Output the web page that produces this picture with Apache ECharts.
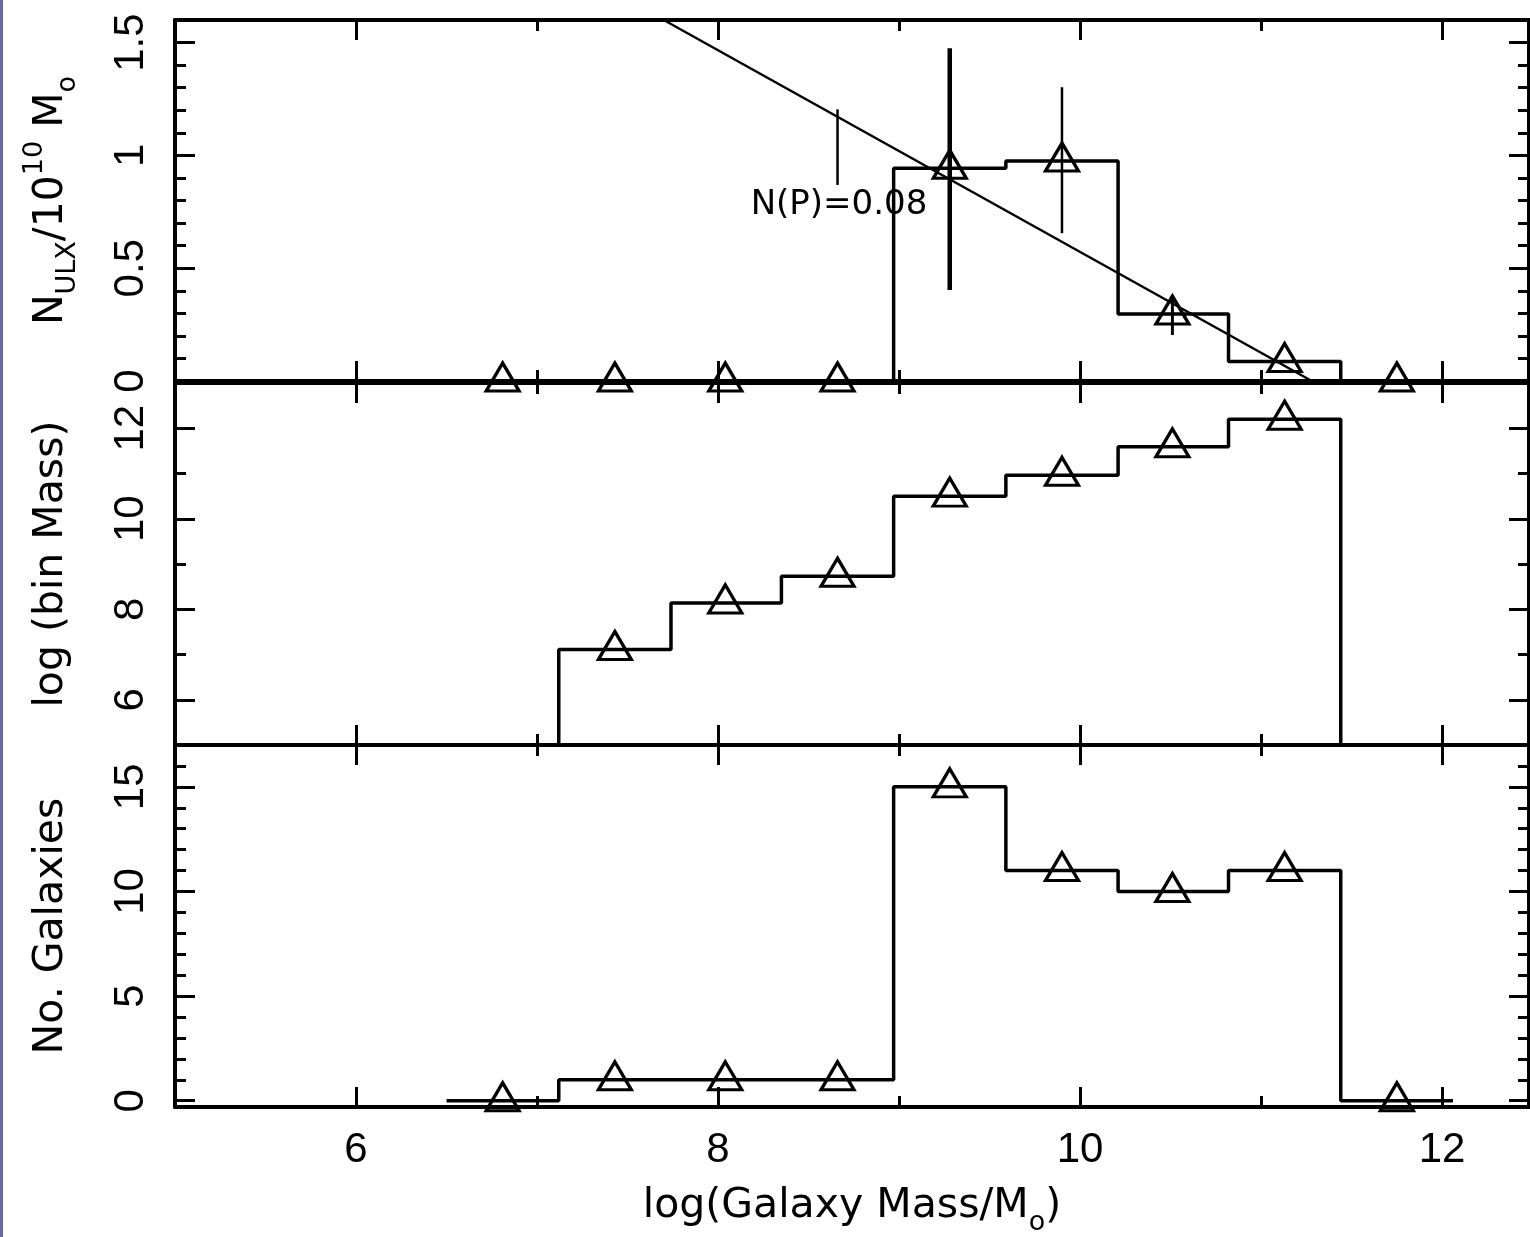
<!DOCTYPE html>
<html>
<head>
<meta charset="utf-8">
<script src="https://cdn.jsdelivr.net/npm/echarts@6/dist/echarts.min.js"></script>
<style>
  html, body { margin: 0; padding: 0; background: #ffffff; }
  #chart { width: 1530px; height: 1237px; }
</style>
</head>
<body>
<div id="chart"></div>
<script>
// Histogram bins in log(galaxy mass)
const binEdges   = [6.50, 7.12, 7.74, 8.35, 8.97, 9.59, 10.21, 10.82, 11.44, 12.06];
const binCentres = [6.81, 7.43, 8.04, 8.66, 9.28, 9.90, 10.51, 11.13, 11.75];

// Panel 1: ULX count per 10^10 solar masses
const ulxPerMass = [0, 0, 0, 0, 0.943, 0.975, 0.297, 0.086, 0];
// vertical segments (error bars and the N(P) marker)
const barX    = [8.66, 9.28, 9.90, 10.51];
const barLow  = [0.869, 0.403, 0.655, 0.204];
const barHigh = [1.204, 1.475, 1.302, 0.381];
// fitted power-law line (end points)
const fitX = [7.70, 11.28];
const fitY = [1.6, 0];
const fitLabel = 'N(P)=0.08';
const fitLabelAt = [8.18, 0.78];

// Panel 2: log of total mass per bin (empty bins have none)
const logBinMass = [null, 7.11, 8.14, 8.73, 10.50, 10.96, 11.59, 12.20, null];

// Panel 3: number of galaxies per bin
const galaxyCounts = [0, 1, 1, 1, 15, 11, 10, 11, 0];

// Axis ranges and ticks
const xRange = [5, 12.48];
const xMajor = [6, 8, 10, 12];
const xMinor = [7, 9, 11];
const yRanges = [[0, 1.6], [5, 13], [-0.3, 17]];
const yMajor = [[0, 0.5, 1, 1.5], [6, 8, 10, 12], [0, 5, 10, 15]];
const yMinor = [
  [0.1, 0.2, 0.3, 0.4, 0.6, 0.7, 0.8, 0.9, 1.1, 1.2, 1.3, 1.4],
  [7, 9, 11],
  [1, 2, 3, 4, 6, 7, 8, 9, 11, 12, 13, 14, 16]
];
const yNames = [
  '{t|N}{sub|ULX}{t|/10}{sup|10}{t| M}{sub|o}',
  'log (bin Mass)',
  'No. Galaxies'
];
const xName = '{t|log(Galaxy Mass/M}{sub|o}{t|)}';

// ---- styling ----
const INK = '#000000';
const AXIS_W = 4, TICK_W = 3, MAJOR_LEN = 20, MINOR_LEN = 11;
const labelFont = { fontFamily: 'Liberation Sans', fontSize: 42, color: INK };
const nameStyle = {
  fontFamily: 'DejaVu Sans', fontSize: 41, color: INK, lineHeight: 60,
  rich: {
    t:   { fontFamily: 'DejaVu Sans', fontSize: 41, lineHeight: 60, color: INK },
    sub: { fontFamily: 'DejaVu Sans', fontSize: 27, lineHeight: 27, verticalAlign: 'bottom', color: INK },
    sup: { fontFamily: 'DejaVu Sans', fontSize: 27, lineHeight: 27, verticalAlign: 'top', color: INK }
  }
};

const grids = [
  { left: 175, top: 20,  width: 1354, height: 361 },
  { left: 175, top: 383, width: 1354, height: 362 },
  { left: 175, top: 745, width: 1354, height: 362 }
].map(g => Object.assign({ containLabel: false, outerBoundsMode: 'none' }, g));

function axisBase(g, range, position, values, len, showLine) {
  return {
    gridIndex: g, type: 'value', min: range[0], max: range[1], position: position,
    axisLine: { show: showLine, onZero: false, lineStyle: { color: INK, width: AXIS_W } },
    axisTick: { show: true, inside: true, length: len, customValues: values,
                lineStyle: { color: INK, width: TICK_W } },
    axisLabel: { show: false },
    splitLine: { show: false },
    minorTick: { show: false }
  };
}

const xAxes = [], yAxes = [];
grids.forEach((_, g) => {
  const bottomMajor = axisBase(g, xRange, 'bottom', xMajor, MAJOR_LEN, true);
  if (g === 2) {
    bottomMajor.axisLabel = Object.assign({ show: true, customValues: xMajor, margin: 22 }, labelFont);
    bottomMajor.name = xName;
    bottomMajor.nameLocation = 'middle';
    bottomMajor.nameGap = 69;
    bottomMajor.nameTextStyle = nameStyle;
  }
  xAxes.push(bottomMajor,
             axisBase(g, xRange, 'bottom', xMinor, MINOR_LEN, false),
             axisBase(g, xRange, 'top', xMajor, MAJOR_LEN, true),
             axisBase(g, xRange, 'top', xMinor, MINOR_LEN, false));

  const leftMajor = axisBase(g, yRanges[g], 'left', yMajor[g], MAJOR_LEN, true);
  leftMajor.axisLabel = Object.assign({ show: true, customValues: yMajor[g], rotate: 90, margin: 23 }, labelFont);
  leftMajor.name = yNames[g];
  leftMajor.nameLocation = 'middle';
  leftMajor.nameGap = 94;
  leftMajor.nameTextStyle = nameStyle;
  yAxes.push(leftMajor,
             axisBase(g, yRanges[g], 'left', yMinor[g], MINOR_LEN, false),
             axisBase(g, yRanges[g], 'right', yMajor[g], MAJOR_LEN, true),
             axisBase(g, yRanges[g], 'right', yMinor[g], MINOR_LEN, false));
});

// Outline of a histogram; bins without a value drop to the floor of the panel
function stepPoints(vals, floor) {
  const pts = [];
  for (let i = 0; i < vals.length; i++) {
    const v = vals[i];
    if (v == null) continue;
    if (i > 0 && vals[i - 1] == null) pts.push([binEdges[i], floor]);
    pts.push([binEdges[i], v], [binEdges[i + 1], v]);
    if (i < vals.length - 1 && vals[i + 1] == null) pts.push([binEdges[i + 1], floor]);
  }
  return pts;
}

function points(vals) {
  const out = [];
  vals.forEach((v, i) => { if (v != null) out.push([binCentres[i], v]); });
  return out;
}

function histSeries(g, vals) {
  return {
    type: 'line', xAxisIndex: g * 4, yAxisIndex: g * 4,
    data: stepPoints(vals, yRanges[g][0]),
    showSymbol: false, symbol: 'none', silent: true, z: 3,
    lineStyle: { color: INK, width: 3.5 }
  };
}

function markerSeries(g, vals) {
  return {
    type: 'scatter', xAxisIndex: g * 4, yAxisIndex: g * 4,
    data: points(vals),
    symbol: 'triangle', symbolSize: [33, 28], symbolOffset: [0, -4],
    silent: true, z: 4,
    itemStyle: { color: 'rgba(0,0,0,0)', borderColor: INK, borderWidth: 3.2, opacity: 1 }
  };
}

const barWidths = [2.5, 4.5, 2.5, 3];

const option = {
  backgroundColor: '#ffffff',
  animation: false,
  grid: grids,
  xAxis: xAxes,
  yAxis: yAxes,
  graphic: [{
    type: 'rect', left: 0, top: 0, z: 10,
    shape: { width: 3, height: 1237 },
    style: { fill: '#6a6aa8' }
  }],
  series: [
    histSeries(0, ulxPerMass),
    {
      type: 'line', xAxisIndex: 0, yAxisIndex: 0,
      data: fitX.map((x, i) => [x, fitY[i]]),
      showSymbol: false, symbol: 'none', silent: true, z: 3,
      lineStyle: { color: INK, width: 2.5 }
    },
    {
      type: 'custom', xAxisIndex: 0, yAxisIndex: 0, silent: true, z: 3,
      data: barX.map((x, i) => [x, barLow[i], barHigh[i]]),
      renderItem: function (params, api) {
        const x = api.value(0);
        const p1 = api.coord([x, api.value(1)]);
        const p2 = api.coord([x, api.value(2)]);
        return {
          type: 'line',
          shape: { x1: p1[0], y1: p1[1], x2: p2[0], y2: p2[1] },
          style: { stroke: INK, lineWidth: barWidths[params.dataIndex] }
        };
      }
    },
    {
      type: 'custom', xAxisIndex: 0, yAxisIndex: 0, silent: true, z: 1,
      data: [fitLabelAt],
      renderItem: function (params, api) {
        const p = api.coord([api.value(0), api.value(1)]);
        return {
          type: 'text', x: p[0], y: p[1],
          style: {
            text: fitLabel, fill: INK,
            font: '34px "DejaVu Sans"',
            align: 'left', verticalAlign: 'middle'
          }
        };
      }
    },
    markerSeries(0, ulxPerMass),
    histSeries(1, logBinMass),
    markerSeries(1, logBinMass),
    histSeries(2, galaxyCounts),
    markerSeries(2, galaxyCounts)
  ]
};

const chart = echarts.init(document.getElementById('chart'), null, { renderer: 'canvas' });
chart.setOption(option);
</script>
</body>
</html>
